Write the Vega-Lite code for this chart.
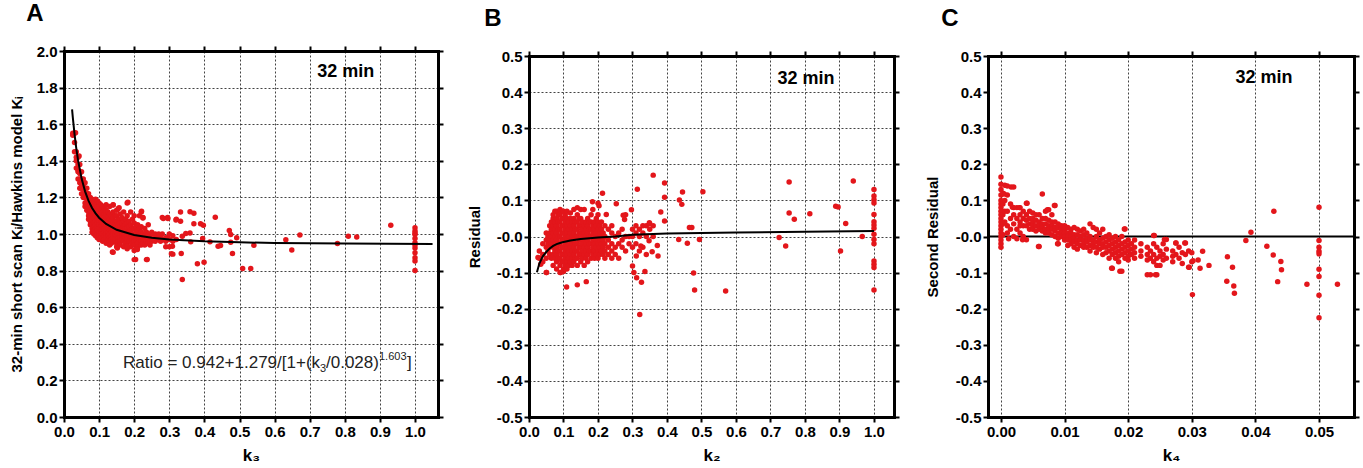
{
"$schema": "https://vega.github.io/schema/vega-lite/v6.json",
"padding": {"left": 9, "top": 2, "right": 0, "bottom": 0},
"background": "white",
"config": {
 "view": {"stroke": null},
 "font": "Liberation Sans",
 "axis": {"domain": true, "domainColor": "black", "domainWidth": 3, "domainCap": "square", "ticks": true, "tickColor": "black", "tickWidth": 2, "tickSize": 5, "labelFont": "Liberation Sans", "labelFontSize": 15, "labelFontWeight": "bold", "labelColor": "black", "labelPadding": 2, "labelFlush": false, "labelOverlap": false, "titleFont": "Liberation Sans", "titleFontSize": 16, "titleFontWeight": "bold", "titleColor": "black", "gridColor": "#222", "gridDash": [2, 2], "gridWidth": 1, "gridOpacity": 0.85},
 "title": {"anchor": "start", "fontSize": 24, "fontWeight": "bold", "font": "Liberation Sans", "color": "black", "baseline": "alphabetic", "offset": 18}
},
"datasets": {
 "A": [
  {"k":0.025,"v":1.55},{"k":0.025,"v":1.54},
  {"k":0.03,"v":1.55},{"k":0.03,"v":1.5},{"k":0.03,"v":1.45},
  {"k":0.035,"v":1.42},{"k":0.035,"v":1.4},{"k":0.035,"v":1.36},{"k":0.035,"v":1.45},
  {"k":0.04,"v":1.42},{"k":0.04,"v":1.38},{"k":0.04,"v":1.35},{"k":0.04,"v":1.3},{"k":0.04,"v":1.34},
  {"k":0.045,"v":1.38},{"k":0.045,"v":1.33},{"k":0.045,"v":1.3},{"k":0.045,"v":1.28},{"k":0.045,"v":1.25},
  {"k":0.05,"v":1.34},{"k":0.05,"v":1.3},{"k":0.05,"v":1.27},{"k":0.05,"v":1.25},{"k":0.05,"v":1.22},
  {"k":0.055,"v":1.3},{"k":0.055,"v":1.27},{"k":0.055,"v":1.25},{"k":0.055,"v":1.22},{"k":0.055,"v":1.2},
  {"k":0.06,"v":1.28},{"k":0.06,"v":1.25},{"k":0.06,"v":1.23},{"k":0.06,"v":1.2},{"k":0.06,"v":1.17},{"k":0.06,"v":1.15},
  {"k":0.065,"v":1.25},{"k":0.065,"v":1.22},{"k":0.065,"v":1.19},{"k":0.065,"v":1.16},{"k":0.065,"v":1.13},
  {"k":0.07,"v":1.22},{"k":0.07,"v":1.2},{"k":0.07,"v":1.17},{"k":0.07,"v":1.15},{"k":0.07,"v":1.12},{"k":0.07,"v":1.1},{"k":0.07,"v":1.08},
  {"k":0.075,"v":1.2},{"k":0.075,"v":1.18},{"k":0.075,"v":1.15},{"k":0.075,"v":1.13},{"k":0.075,"v":1.1},{"k":0.075,"v":1.07},{"k":0.075,"v":1.05},
  {"k":0.08,"v":1.19},{"k":0.08,"v":1.17},{"k":0.08,"v":1.14},{"k":0.08,"v":1.12},{"k":0.08,"v":1.1},{"k":0.08,"v":1.08},{"k":0.08,"v":1.05},{"k":0.08,"v":1.03},{"k":0.08,"v":1.01},
  {"k":0.085,"v":1.18},{"k":0.085,"v":1.15},{"k":0.085,"v":1.13},{"k":0.085,"v":1.11},{"k":0.085,"v":1.09},{"k":0.085,"v":1.06},{"k":0.085,"v":1.04},{"k":0.085,"v":1.02},{"k":0.085,"v":1.0},
  {"k":0.09,"v":1.19},{"k":0.09,"v":1.16},{"k":0.09,"v":1.14},{"k":0.09,"v":1.12},{"k":0.09,"v":1.1},{"k":0.09,"v":1.07},{"k":0.09,"v":1.05},{"k":0.09,"v":1.03},{"k":0.09,"v":1.01},{"k":0.09,"v":0.99},
  {"k":0.095,"v":1.18},{"k":0.095,"v":1.15},{"k":0.095,"v":1.13},{"k":0.095,"v":1.11},{"k":0.095,"v":1.08},{"k":0.095,"v":1.06},{"k":0.095,"v":1.04},{"k":0.095,"v":1.02},{"k":0.095,"v":1.0},{"k":0.095,"v":0.98},
  {"k":0.1,"v":1.17},{"k":0.1,"v":1.15},{"k":0.1,"v":1.12},{"k":0.1,"v":1.1},{"k":0.1,"v":1.07},{"k":0.1,"v":1.05},{"k":0.1,"v":1.03},{"k":0.1,"v":1.01},{"k":0.1,"v":0.99},{"k":0.1,"v":0.97},
  {"k":0.105,"v":1.16},{"k":0.105,"v":1.13},{"k":0.105,"v":1.11},{"k":0.105,"v":1.09},{"k":0.105,"v":1.06},{"k":0.105,"v":1.04},{"k":0.105,"v":1.02},{"k":0.105,"v":1.0},{"k":0.105,"v":0.98},
  {"k":0.11,"v":1.15},{"k":0.11,"v":1.12},{"k":0.11,"v":1.1},{"k":0.11,"v":1.08},{"k":0.11,"v":1.06},{"k":0.11,"v":1.04},{"k":0.11,"v":1.02},{"k":0.11,"v":1.0},{"k":0.11,"v":0.98},{"k":0.11,"v":0.96},
  {"k":0.115,"v":1.14},{"k":0.115,"v":1.11},{"k":0.115,"v":1.09},{"k":0.115,"v":1.07},{"k":0.115,"v":1.05},{"k":0.115,"v":1.03},{"k":0.115,"v":1.01},{"k":0.115,"v":0.99},{"k":0.115,"v":0.97},
  {"k":0.12,"v":1.16},{"k":0.12,"v":1.13},{"k":0.12,"v":1.1},{"k":0.12,"v":1.08},{"k":0.12,"v":1.06},{"k":0.12,"v":1.04},{"k":0.12,"v":1.02},{"k":0.12,"v":1.0},{"k":0.12,"v":0.98},{"k":0.12,"v":0.95},
  {"k":0.125,"v":1.12},{"k":0.125,"v":1.09},{"k":0.125,"v":1.07},{"k":0.125,"v":1.05},{"k":0.125,"v":1.03},{"k":0.125,"v":1.01},{"k":0.125,"v":0.99},{"k":0.125,"v":0.97},
  {"k":0.13,"v":1.15},{"k":0.13,"v":1.11},{"k":0.13,"v":1.08},{"k":0.13,"v":1.06},{"k":0.13,"v":1.04},{"k":0.13,"v":1.02},{"k":0.13,"v":1.0},{"k":0.13,"v":0.98},{"k":0.13,"v":0.96},{"k":0.13,"v":0.94},
  {"k":0.135,"v":1.1},{"k":0.135,"v":1.07},{"k":0.135,"v":1.05},{"k":0.135,"v":1.03},{"k":0.135,"v":1.01},{"k":0.135,"v":0.99},{"k":0.135,"v":0.97},{"k":0.135,"v":0.95},
  {"k":0.14,"v":1.16},{"k":0.14,"v":1.12},{"k":0.14,"v":1.09},{"k":0.14,"v":1.06},{"k":0.14,"v":1.04},{"k":0.14,"v":1.02},{"k":0.14,"v":1.0},{"k":0.14,"v":0.98},{"k":0.14,"v":0.96},{"k":0.14,"v":0.9},
  {"k":0.145,"v":1.1},{"k":0.145,"v":1.07},{"k":0.145,"v":1.05},{"k":0.145,"v":1.03},{"k":0.145,"v":1.01},{"k":0.145,"v":0.99},{"k":0.145,"v":0.97},
  {"k":0.15,"v":1.13},{"k":0.15,"v":1.1},{"k":0.15,"v":1.07},{"k":0.15,"v":1.05},{"k":0.15,"v":1.03},{"k":0.15,"v":1.01},{"k":0.15,"v":0.99},{"k":0.15,"v":0.97},{"k":0.15,"v":0.95},{"k":0.15,"v":0.93},
  {"k":0.155,"v":1.14},{"k":0.155,"v":1.08},{"k":0.155,"v":1.05},{"k":0.155,"v":1.02},{"k":0.155,"v":1.0},{"k":0.155,"v":0.98},{"k":0.155,"v":0.96},
  {"k":0.16,"v":1.11},{"k":0.16,"v":1.08},{"k":0.16,"v":1.06},{"k":0.16,"v":1.04},{"k":0.16,"v":1.02},{"k":0.16,"v":1.0},{"k":0.16,"v":0.98},{"k":0.16,"v":0.96},{"k":0.16,"v":0.94},
  {"k":0.165,"v":1.09},{"k":0.165,"v":1.06},{"k":0.165,"v":1.03},{"k":0.165,"v":1.01},{"k":0.165,"v":0.99},{"k":0.165,"v":0.97},
  {"k":0.17,"v":1.12},{"k":0.17,"v":1.07},{"k":0.17,"v":1.04},{"k":0.17,"v":1.02},{"k":0.17,"v":1.0},{"k":0.17,"v":0.98},{"k":0.17,"v":0.96},{"k":0.17,"v":0.93},
  {"k":0.175,"v":1.08},{"k":0.175,"v":1.05},{"k":0.175,"v":1.03},{"k":0.175,"v":1.0},{"k":0.175,"v":0.98},{"k":0.175,"v":0.95},
  {"k":0.18,"v":1.17},{"k":0.18,"v":1.1},{"k":0.18,"v":1.06},{"k":0.18,"v":1.03},{"k":0.18,"v":1.01},{"k":0.18,"v":0.99},{"k":0.18,"v":0.97},{"k":0.18,"v":0.94},{"k":0.18,"v":0.92},
  {"k":0.185,"v":1.07},{"k":0.185,"v":1.04},{"k":0.185,"v":1.01},{"k":0.185,"v":0.99},{"k":0.185,"v":0.96},
  {"k":0.19,"v":1.12},{"k":0.19,"v":1.05},{"k":0.19,"v":1.02},{"k":0.19,"v":1.0},{"k":0.19,"v":0.98},{"k":0.19,"v":0.96},{"k":0.19,"v":0.93},
  {"k":0.195,"v":1.08},{"k":0.195,"v":1.03},{"k":0.195,"v":1.0},{"k":0.195,"v":0.97},{"k":0.195,"v":0.95},
  {"k":0.2,"v":1.1},{"k":0.2,"v":1.06},{"k":0.2,"v":1.03},{"k":0.2,"v":1.0},{"k":0.2,"v":0.98},{"k":0.2,"v":0.96},{"k":0.2,"v":0.94},{"k":0.2,"v":0.91},{"k":0.2,"v":0.86},
  {"k":0.205,"v":1.04},{"k":0.205,"v":1.01},{"k":0.205,"v":0.99},{"k":0.205,"v":0.97},{"k":0.205,"v":0.92},
  {"k":0.21,"v":1.05},{"k":0.21,"v":1.02},{"k":0.21,"v":0.99},{"k":0.21,"v":0.97},{"k":0.21,"v":0.95},{"k":0.21,"v":0.93},
  {"k":0.215,"v":1.1},{"k":0.215,"v":1.03},{"k":0.215,"v":1.0},{"k":0.215,"v":0.97},
  {"k":0.22,"v":1.12},{"k":0.22,"v":1.04},{"k":0.22,"v":1.01},{"k":0.22,"v":0.98},{"k":0.22,"v":0.96},{"k":0.22,"v":0.94},
  {"k":0.225,"v":1.09},{"k":0.225,"v":1.0},{"k":0.225,"v":0.97},{"k":0.225,"v":0.95},
  {"k":0.23,"v":1.03},{"k":0.23,"v":0.99},{"k":0.23,"v":0.97},{"k":0.23,"v":0.94},
  {"k":0.235,"v":1.01},{"k":0.235,"v":0.98},{"k":0.235,"v":0.96},{"k":0.235,"v":0.86},
  {"k":0.24,"v":1.05},{"k":0.24,"v":1.0},{"k":0.24,"v":0.97},{"k":0.24,"v":0.95},
  {"k":0.245,"v":0.99},{"k":0.245,"v":0.96},{"k":0.245,"v":0.94},
  {"k":0.25,"v":1.01},{"k":0.25,"v":0.98},{"k":0.25,"v":0.96},
  {"k":0.255,"v":0.99},{"k":0.255,"v":0.97},
  {"k":0.26,"v":1.0},{"k":0.26,"v":0.97},{"k":0.26,"v":0.96},
  {"k":0.27,"v":0.99},{"k":0.27,"v":0.97},
  {"k":0.275,"v":0.98},{"k":0.275,"v":0.96},
  {"k":0.28,"v":1.09},{"k":0.28,"v":1.0},{"k":0.28,"v":0.97},
  {"k":0.29,"v":0.98},{"k":0.29,"v":0.96},{"k":0.29,"v":0.93},
  {"k":0.295,"v":1.09},{"k":0.295,"v":0.98},
  {"k":0.3,"v":0.97},{"k":0.3,"v":0.93},
  {"k":0.31,"v":0.96},{"k":0.31,"v":0.89},
  {"k":0.32,"v":1.08},{"k":0.32,"v":0.97},
  {"k":0.033,"v":1.553},{"k":0.043,"v":1.426},{"k":0.182,"v":1.174},{"k":0.14,"v":1.158},{"k":0.157,"v":1.143},{"k":0.221,"v":1.125},{"k":0.225,"v":1.088},{"k":0.283,"v":1.085},{"k":0.296,"v":1.085},{"k":0.332,"v":1.12},{"k":0.359,"v":1.121},{"k":0.37,"v":1.114},{"k":0.319,"v":1.076},{"k":0.332,"v":1.07},{"k":0.37,"v":1.056},{"k":0.389,"v":1.056},{"k":0.397,"v":1.048},{"k":0.431,"v":1.092},{"k":0.471,"v":1.019},{"k":0.475,"v":0.997},{"k":0.492,"v":0.979},{"k":0.475,"v":0.955},{"k":0.395,"v":0.975},{"k":0.416,"v":0.957},{"k":0.439,"v":0.933},{"k":0.446,"v":0.937},{"k":0.361,"v":0.957},{"k":0.359,"v":1.006},{"k":0.347,"v":1.003},{"k":0.337,"v":0.988},{"k":0.309,"v":0.933},{"k":0.306,"v":0.892},{"k":0.334,"v":0.893},{"k":0.337,"v":0.751},{"k":0.38,"v":0.837},{"k":0.399,"v":0.846},{"k":0.48,"v":0.893},{"k":0.541,"v":0.939},{"k":0.509,"v":0.811},{"k":0.532,"v":0.811},{"k":0.632,"v":0.968},{"k":0.649,"v":0.913},{"k":0.672,"v":0.994},{"k":0.779,"v":0.948},{"k":0.81,"v":0.988},{"k":0.834,"v":0.983},{"k":0.931,"v":1.048},
  {"k":1.0,"v":1.034},{"k":1.0,"v":1.016},{"k":1.0,"v":0.997},{"k":1.0,"v":0.975},{"k":1.0,"v":0.952},{"k":1.0,"v":0.924},{"k":1.0,"v":0.897},{"k":1.0,"v":0.87},{"k":1.0,"v":0.852},{"k":1.0,"v":0.8},{"k":1.0,"v":1.005},{"k":1.0,"v":0.94},
  {"k":0.204,"v":0.861},{"k":0.237,"v":0.861},{"k":0.138,"v":0.902},{"k":0.152,"v":0.924},{"k":0.18,"v":0.933},{"k":0.209,"v":0.915},{"k":0.262,"v":0.99},{"k":0.27,"v":1.0},{"k":0.255,"v":0.995},{"k":0.31,"v":0.99},{"k":0.3,"v":1.0}
 ],
 "Afit": [
  {"k":0.023,"v":1.681},{"k":0.025,"v":1.639},{"k":0.03,"v":1.546},{"k":0.035,"v":1.468},{"k":0.04,"v":1.4035},{"k":0.05,"v":1.304},{"k":0.06,"v":1.233},{"k":0.07,"v":1.181},{"k":0.08,"v":1.142},{"k":0.09,"v":1.1126},{"k":0.1,"v":1.089},{"k":0.12,"v":1.055},{"k":0.15,"v":1.023},{"k":0.2,"v":0.9945},{"k":0.25,"v":0.979},{"k":0.3,"v":0.97},{"k":0.4,"v":0.96},{"k":0.5,"v":0.9545},{"k":0.6,"v":0.951},{"k":0.8,"v":0.948},{"k":1.05,"v":0.9458}
 ],
 "B": [
  {"k":0.03,"v":-0.06},{"k":0.03,"v":-0.04},
  {"k":0.04,"v":-0.05},{"k":0.04,"v":-0.02},{"k":0.04,"v":-0.07},
  {"k":0.05,"v":-0.1},{"k":0.05,"v":-0.06},{"k":0.05,"v":-0.03},{"k":0.05,"v":-0.01},{"k":0.05,"v":0.01},
  {"k":0.055,"v":-0.04},{"k":0.055,"v":-0.02},{"k":0.055,"v":0.0},
  {"k":0.06,"v":-0.05},{"k":0.06,"v":-0.03},{"k":0.06,"v":-0.01},{"k":0.06,"v":0.01},{"k":0.06,"v":0.03},
  {"k":0.065,"v":-0.06},{"k":0.065,"v":-0.02},{"k":0.065,"v":0.0},{"k":0.065,"v":0.02},{"k":0.065,"v":0.04},
  {"k":0.07,"v":-0.08},{"k":0.07,"v":-0.05},{"k":0.07,"v":-0.03},{"k":0.07,"v":-0.01},{"k":0.07,"v":0.01},{"k":0.07,"v":0.03},{"k":0.07,"v":0.05},{"k":0.07,"v":0.06},
  {"k":0.075,"v":-0.06},{"k":0.075,"v":-0.04},{"k":0.075,"v":-0.02},{"k":0.075,"v":0.0},{"k":0.075,"v":0.02},{"k":0.075,"v":0.04},{"k":0.075,"v":0.07},
  {"k":0.08,"v":-0.09},{"k":0.08,"v":-0.07},{"k":0.08,"v":-0.05},{"k":0.08,"v":-0.03},{"k":0.08,"v":-0.01},{"k":0.08,"v":0.01},{"k":0.08,"v":0.03},{"k":0.08,"v":0.05},{"k":0.08,"v":0.07},
  {"k":0.085,"v":-0.06},{"k":0.085,"v":-0.04},{"k":0.085,"v":-0.02},{"k":0.085,"v":0.0},{"k":0.085,"v":0.02},{"k":0.085,"v":0.04},{"k":0.085,"v":0.06},
  {"k":0.09,"v":-0.1},{"k":0.09,"v":-0.08},{"k":0.09,"v":-0.06},{"k":0.09,"v":-0.04},{"k":0.09,"v":-0.02},{"k":0.09,"v":0.0},{"k":0.09,"v":0.02},{"k":0.09,"v":0.04},{"k":0.09,"v":0.06},{"k":0.09,"v":0.075},
  {"k":0.095,"v":-0.07},{"k":0.095,"v":-0.05},{"k":0.095,"v":-0.03},{"k":0.095,"v":-0.01},{"k":0.095,"v":0.01},{"k":0.095,"v":0.03},{"k":0.095,"v":0.05},{"k":0.095,"v":0.07},
  {"k":0.1,"v":-0.09},{"k":0.1,"v":-0.07},{"k":0.1,"v":-0.05},{"k":0.1,"v":-0.03},{"k":0.1,"v":-0.01},{"k":0.1,"v":0.01},{"k":0.1,"v":0.03},{"k":0.1,"v":0.05},{"k":0.1,"v":0.07},
  {"k":0.105,"v":-0.08},{"k":0.105,"v":-0.06},{"k":0.105,"v":-0.04},{"k":0.105,"v":-0.02},{"k":0.105,"v":0.0},{"k":0.105,"v":0.02},{"k":0.105,"v":0.04},{"k":0.105,"v":0.06},
  {"k":0.11,"v":-0.09},{"k":0.11,"v":-0.07},{"k":0.11,"v":-0.05},{"k":0.11,"v":-0.03},{"k":0.11,"v":-0.01},{"k":0.11,"v":0.01},{"k":0.11,"v":0.03},{"k":0.11,"v":0.05},{"k":0.11,"v":0.07},
  {"k":0.115,"v":-0.08},{"k":0.115,"v":-0.06},{"k":0.115,"v":-0.04},{"k":0.115,"v":-0.02},{"k":0.115,"v":0.0},{"k":0.115,"v":0.02},{"k":0.115,"v":0.04},
  {"k":0.12,"v":-0.07},{"k":0.12,"v":-0.05},{"k":0.12,"v":-0.03},{"k":0.12,"v":-0.01},{"k":0.12,"v":0.01},{"k":0.12,"v":0.03},{"k":0.12,"v":0.05},{"k":0.12,"v":0.065},
  {"k":0.125,"v":-0.08},{"k":0.125,"v":-0.06},{"k":0.125,"v":-0.04},{"k":0.125,"v":-0.02},{"k":0.125,"v":0.0},{"k":0.125,"v":0.02},{"k":0.125,"v":0.04},
  {"k":0.13,"v":-0.07},{"k":0.13,"v":-0.05},{"k":0.13,"v":-0.03},{"k":0.13,"v":-0.01},{"k":0.13,"v":0.01},{"k":0.13,"v":0.03},{"k":0.13,"v":0.05},{"k":0.13,"v":0.075},
  {"k":0.135,"v":-0.06},{"k":0.135,"v":-0.04},{"k":0.135,"v":-0.02},{"k":0.135,"v":0.0},{"k":0.135,"v":0.02},{"k":0.135,"v":0.04},
  {"k":0.14,"v":-0.08},{"k":0.14,"v":-0.06},{"k":0.14,"v":-0.04},{"k":0.14,"v":-0.02},{"k":0.14,"v":0.0},{"k":0.14,"v":0.02},{"k":0.14,"v":0.04},{"k":0.14,"v":0.06},{"k":0.14,"v":0.08},
  {"k":0.145,"v":-0.05},{"k":0.145,"v":-0.03},{"k":0.145,"v":-0.01},{"k":0.145,"v":0.01},{"k":0.145,"v":0.03},{"k":0.145,"v":0.05},
  {"k":0.15,"v":-0.07},{"k":0.15,"v":-0.05},{"k":0.15,"v":-0.03},{"k":0.15,"v":-0.01},{"k":0.15,"v":0.01},{"k":0.15,"v":0.03},{"k":0.15,"v":0.05},{"k":0.15,"v":0.075},
  {"k":0.155,"v":-0.06},{"k":0.155,"v":-0.04},{"k":0.155,"v":-0.02},{"k":0.155,"v":0.0},{"k":0.155,"v":0.02},{"k":0.155,"v":0.04},
  {"k":0.16,"v":-0.08},{"k":0.16,"v":-0.05},{"k":0.16,"v":-0.03},{"k":0.16,"v":-0.01},{"k":0.16,"v":0.01},{"k":0.16,"v":0.03},{"k":0.16,"v":0.075},
  {"k":0.165,"v":-0.06},{"k":0.165,"v":-0.04},{"k":0.165,"v":-0.02},{"k":0.165,"v":0.0},{"k":0.165,"v":0.02},{"k":0.165,"v":0.04},
  {"k":0.17,"v":-0.07},{"k":0.17,"v":-0.05},{"k":0.17,"v":-0.03},{"k":0.17,"v":-0.01},{"k":0.17,"v":0.01},{"k":0.17,"v":0.03},{"k":0.17,"v":0.05},
  {"k":0.175,"v":-0.04},{"k":0.175,"v":-0.02},{"k":0.175,"v":0.0},{"k":0.175,"v":0.02},{"k":0.175,"v":0.04},
  {"k":0.18,"v":-0.06},{"k":0.18,"v":-0.04},{"k":0.18,"v":-0.02},{"k":0.18,"v":0.0},{"k":0.18,"v":0.02},{"k":0.18,"v":0.04},{"k":0.18,"v":0.06},
  {"k":0.185,"v":-0.05},{"k":0.185,"v":-0.03},{"k":0.185,"v":-0.01},{"k":0.185,"v":0.01},{"k":0.185,"v":0.03},{"k":0.185,"v":0.075},
  {"k":0.19,"v":-0.06},{"k":0.19,"v":-0.04},{"k":0.19,"v":-0.02},{"k":0.19,"v":0.0},{"k":0.19,"v":0.02},{"k":0.19,"v":0.04},
  {"k":0.195,"v":-0.05},{"k":0.195,"v":-0.03},{"k":0.195,"v":-0.01},{"k":0.195,"v":0.01},{"k":0.195,"v":0.03},{"k":0.195,"v":0.05},
  {"k":0.2,"v":-0.06},{"k":0.2,"v":-0.04},{"k":0.2,"v":-0.02},{"k":0.2,"v":0.0},{"k":0.2,"v":0.02},{"k":0.2,"v":0.04},{"k":0.2,"v":0.06},
  {"k":0.205,"v":-0.05},{"k":0.205,"v":-0.03},{"k":0.205,"v":-0.01},{"k":0.205,"v":0.01},{"k":0.205,"v":0.03},
  {"k":0.21,"v":-0.04},{"k":0.21,"v":-0.02},{"k":0.21,"v":0.0},{"k":0.21,"v":0.02},{"k":0.21,"v":0.04},
  {"k":0.215,"v":-0.05},{"k":0.215,"v":-0.03},{"k":0.215,"v":-0.01},{"k":0.215,"v":0.01},
  {"k":0.22,"v":-0.06},{"k":0.22,"v":-0.04},{"k":0.22,"v":-0.02},{"k":0.22,"v":0.0},{"k":0.22,"v":0.03},
  {"k":0.23,"v":-0.05},{"k":0.23,"v":-0.03},{"k":0.23,"v":-0.01},{"k":0.23,"v":0.02},
  {"k":0.24,"v":-0.06},{"k":0.24,"v":-0.04},{"k":0.24,"v":-0.02},{"k":0.24,"v":0.01},{"k":0.24,"v":0.03},
  {"k":0.25,"v":-0.05},{"k":0.25,"v":-0.03},{"k":0.25,"v":0.0},
  {"k":0.26,"v":-0.06},{"k":0.26,"v":-0.02},{"k":0.26,"v":0.01},
  {"k":0.27,"v":-0.03},{"k":0.27,"v":-0.01},{"k":0.27,"v":0.02},
  {"k":0.28,"v":-0.04},{"k":0.28,"v":0.0},{"k":0.28,"v":0.06},
  {"k":0.29,"v":-0.02},{"k":0.29,"v":0.0},
  {"k":0.3,"v":-0.03},{"k":0.3,"v":0.0},{"k":0.3,"v":0.02},
  {"k":0.31,"v":0.01},{"k":0.31,"v":0.03},{"k":0.31,"v":-0.02},
  {"k":0.32,"v":0.0},{"k":0.32,"v":0.02},{"k":0.32,"v":-0.04},
  {"k":0.33,"v":0.01},{"k":0.33,"v":0.03},{"k":0.33,"v":-0.03},
  {"k":0.34,"v":0.0},{"k":0.34,"v":0.03},{"k":0.34,"v":-0.05},
  {"k":0.35,"v":0.02},{"k":0.35,"v":0.035},
  {"k":0.36,"v":0.03},{"k":0.36,"v":0.0},
  {"k":0.026,"v":-0.058},{"k":0.034,"v":-0.077},{"k":0.051,"v":-0.1},{"k":0.109,"v":-0.14},{"k":0.14,"v":-0.134},{"k":0.166,"v":-0.125},{"k":0.1,"v":-0.097},{"k":0.092,"v":-0.1},{"k":0.184,"v":0.096},{"k":0.213,"v":0.12},{"k":0.2,"v":0.092},{"k":0.203,"v":0.085},{"k":0.253,"v":0.091},{"k":0.224,"v":0.061},{"k":0.273,"v":0.059},{"k":0.277,"v":0.047},{"k":0.297,"v":0.074},{"k":0.314,"v":0.131},{"k":0.36,"v":0.17},{"k":0.393,"v":0.148},{"k":0.393,"v":0.109},{"k":0.382,"v":0.068},{"k":0.393,"v":0.043},{"k":0.436,"v":0.101},{"k":0.443,"v":0.089},{"k":0.445,"v":0.123},{"k":0.504,"v":0.124},{"k":0.465,"v":0.025},{"k":0.472,"v":0.025},{"k":0.434,"v":-0.008},{"k":0.459,"v":-0.019},{"k":0.494,"v":-0.008},{"k":0.477,"v":-0.101},{"k":0.48,"v":-0.148},{"k":0.57,"v":-0.151},{"k":0.348,"v":-0.012},{"k":0.349,"v":0.038},{"k":0.357,"v":-0.042},{"k":0.374,"v":-0.054},{"k":0.372,"v":-0.025},{"k":0.336,"v":-0.097},{"k":0.304,"v":-0.1},{"k":0.3,"v":-0.082},{"k":0.312,"v":-0.114},{"k":0.326,"v":-0.127},{"k":0.321,"v":-0.216},{"k":0.311,"v":-0.054},{"k":0.324,"v":-0.026},{"k":0.725,"v":-0.003},{"k":0.744,"v":-0.026},{"k":0.754,"v":0.151},{"k":0.754,"v":0.065},{"k":0.769,"v":0.048},{"k":0.814,"v":0.063},{"k":0.889,"v":0.084},{"k":0.896,"v":0.082},{"k":0.918,"v":0.036},{"k":0.903,"v":-0.04},{"k":0.94,"v":0.154},{"k":0.966,"v":0.0},
  {"k":1.0,"v":0.13},{"k":1.0,"v":0.112},{"k":1.0,"v":0.102},{"k":1.0,"v":0.093},{"k":1.0,"v":0.061},{"k":1.0,"v":0.041},{"k":1.0,"v":0.032},{"k":1.0,"v":0.023},{"k":1.0,"v":0.006},{"k":1.0,"v":-0.008},{"k":1.0,"v":-0.02},{"k":1.0,"v":-0.068},{"k":1.0,"v":-0.077},{"k":1.0,"v":-0.086},{"k":1.0,"v":-0.148}
 ],
 "Bfit": [
  {"k":0.023,"v":-0.099},{"k":0.03,"v":-0.075},{"k":0.04,"v":-0.055},{"k":0.05,"v":-0.043},{"k":0.06,"v":-0.033},{"k":0.07,"v":-0.026},{"k":0.08,"v":-0.021},{"k":0.09,"v":-0.018},{"k":0.1,"v":-0.015},{"k":0.12,"v":-0.011},{"k":0.15,"v":-0.007},{"k":0.2,"v":-0.003},{"k":0.25,"v":0.0},{"k":0.3,"v":0.005},{"k":0.4,"v":0.008},{"k":0.5,"v":0.01},{"k":0.6,"v":0.011},{"k":0.8,"v":0.013},{"k":1.0,"v":0.015}
 ],
 "C": [
  {"k":0.0,"v":0.165},{"k":0.0,"v":0.145},{"k":0.0,"v":0.13},{"k":0.0,"v":0.115},{"k":0.0,"v":0.1},{"k":0.0,"v":0.09},{"k":0.0,"v":0.08},{"k":0.0,"v":0.07},{"k":0.0,"v":0.06},{"k":0.0,"v":0.05},{"k":0.0,"v":0.04},{"k":0.0,"v":0.03},{"k":0.0,"v":0.02},{"k":0.0,"v":0.01},{"k":0.0,"v":0.0},{"k":0.0,"v":-0.01},{"k":0.0,"v":-0.02},{"k":0.0,"v":-0.03},
  {"k":0.0003,"v":0.12},{"k":0.0003,"v":0.09},{"k":0.0003,"v":0.06},{"k":0.0003,"v":0.035},{"k":0.0003,"v":0.005},
  {"k":0.0006,"v":0.142},{"k":0.0006,"v":0.1},{"k":0.0006,"v":0.07},{"k":0.0006,"v":0.04},
  {"k":0.001,"v":0.14},{"k":0.001,"v":0.115},{"k":0.001,"v":0.07},{"k":0.001,"v":0.03},{"k":0.001,"v":0.01},
  {"k":0.0015,"v":0.09},{"k":0.0015,"v":0.05},{"k":0.0015,"v":0.02},
  {"k":0.002,"v":0.137},{"k":0.002,"v":0.08},{"k":0.002,"v":0.06},{"k":0.002,"v":0.035},{"k":0.002,"v":0.0},
  {"k":0.0025,"v":0.08},{"k":0.0025,"v":0.05},{"k":0.0025,"v":0.02},{"k":0.0025,"v":-0.006},
  {"k":0.003,"v":0.08},{"k":0.003,"v":0.06},{"k":0.003,"v":0.04},{"k":0.003,"v":0.03},{"k":0.003,"v":0.01},
  {"k":0.0035,"v":0.07},{"k":0.0035,"v":0.05},{"k":0.0035,"v":0.03},{"k":0.0035,"v":0.0},
  {"k":0.004,"v":0.092},{"k":0.004,"v":0.06},{"k":0.004,"v":0.045},{"k":0.004,"v":0.03},{"k":0.004,"v":-0.009},
  {"k":0.0045,"v":0.07},{"k":0.0045,"v":0.05},{"k":0.0045,"v":0.035},{"k":0.0045,"v":0.02},
  {"k":0.005,"v":0.065},{"k":0.005,"v":0.05},{"k":0.005,"v":0.04},{"k":0.005,"v":0.03},{"k":0.005,"v":0.02},
  {"k":0.0055,"v":0.06},{"k":0.0055,"v":0.045},{"k":0.0055,"v":0.03},{"k":0.0055,"v":0.015},
  {"k":0.006,"v":0.06},{"k":0.006,"v":0.04},{"k":0.006,"v":0.03},{"k":0.006,"v":0.02},{"k":0.006,"v":-0.028},
  {"k":0.0065,"v":0.118},{"k":0.0065,"v":0.05},{"k":0.0065,"v":0.035},{"k":0.0065,"v":0.025},{"k":0.0065,"v":0.015},
  {"k":0.007,"v":0.07},{"k":0.007,"v":0.05},{"k":0.007,"v":0.035},{"k":0.007,"v":0.02},{"k":0.007,"v":0.01},
  {"k":0.0075,"v":0.074},{"k":0.0075,"v":0.045},{"k":0.0075,"v":0.03},{"k":0.0075,"v":0.02},{"k":0.0075,"v":0.01},
  {"k":0.008,"v":0.06},{"k":0.008,"v":0.04},{"k":0.008,"v":0.03},{"k":0.008,"v":0.02},{"k":0.008,"v":0.005},
  {"k":0.0085,"v":0.086},{"k":0.0085,"v":0.04},{"k":0.0085,"v":0.025},{"k":0.0085,"v":0.015},{"k":0.0085,"v":0.0},
  {"k":0.009,"v":0.035},{"k":0.009,"v":0.025},{"k":0.009,"v":0.01},{"k":0.009,"v":-0.005},{"k":0.009,"v":-0.02},
  {"k":0.0095,"v":0.03},{"k":0.0095,"v":0.02},{"k":0.0095,"v":0.01},{"k":0.0095,"v":0.0},
  {"k":0.01,"v":0.03},{"k":0.01,"v":0.02},{"k":0.01,"v":0.01},{"k":0.01,"v":0.0},{"k":0.01,"v":-0.01},
  {"k":0.0105,"v":0.025},{"k":0.0105,"v":0.01},{"k":0.0105,"v":0.0},{"k":0.0105,"v":-0.01},{"k":0.0105,"v":-0.025},
  {"k":0.011,"v":0.02},{"k":0.011,"v":0.01},{"k":0.011,"v":0.0},{"k":0.011,"v":-0.01},{"k":0.011,"v":-0.02},
  {"k":0.0115,"v":0.025},{"k":0.0115,"v":0.005},{"k":0.0115,"v":-0.005},{"k":0.0115,"v":-0.015},{"k":0.0115,"v":-0.03},
  {"k":0.012,"v":0.02},{"k":0.012,"v":0.005},{"k":0.012,"v":-0.01},{"k":0.012,"v":-0.02},{"k":0.012,"v":-0.035},
  {"k":0.0125,"v":0.015},{"k":0.0125,"v":0.0},{"k":0.0125,"v":-0.01},{"k":0.0125,"v":-0.025},
  {"k":0.013,"v":0.02},{"k":0.013,"v":0.005},{"k":0.013,"v":-0.01},{"k":0.013,"v":-0.02},{"k":0.013,"v":-0.03},
  {"k":0.0135,"v":0.01},{"k":0.0135,"v":-0.005},{"k":0.0135,"v":-0.015},{"k":0.0135,"v":-0.03},
  {"k":0.014,"v":0.035},{"k":0.014,"v":0.0},{"k":0.014,"v":-0.01},{"k":0.014,"v":-0.025},{"k":0.014,"v":-0.04},
  {"k":0.0145,"v":0.025},{"k":0.0145,"v":-0.01},{"k":0.0145,"v":-0.02},{"k":0.0145,"v":-0.03},
  {"k":0.015,"v":0.02},{"k":0.015,"v":0.0},{"k":0.015,"v":-0.015},{"k":0.015,"v":-0.03},{"k":0.015,"v":-0.045},
  {"k":0.0155,"v":0.01},{"k":0.0155,"v":-0.01},{"k":0.0155,"v":-0.02},{"k":0.0155,"v":-0.035},
  {"k":0.016,"v":0.02},{"k":0.016,"v":-0.005},{"k":0.016,"v":-0.02},{"k":0.016,"v":-0.03},{"k":0.016,"v":-0.05},
  {"k":0.0165,"v":0.0},{"k":0.0165,"v":-0.015},{"k":0.0165,"v":-0.03},{"k":0.0165,"v":-0.045},
  {"k":0.017,"v":0.005},{"k":0.017,"v":-0.01},{"k":0.017,"v":-0.025},{"k":0.017,"v":-0.04},{"k":0.017,"v":-0.06},
  {"k":0.0175,"v":-0.005},{"k":0.0175,"v":-0.02},{"k":0.0175,"v":-0.035},{"k":0.0175,"v":-0.05},{"k":0.0175,"v":-0.088},
  {"k":0.018,"v":0.0},{"k":0.018,"v":-0.015},{"k":0.018,"v":-0.03},{"k":0.018,"v":-0.045},{"k":0.018,"v":-0.06},
  {"k":0.0185,"v":-0.01},{"k":0.0185,"v":-0.025},{"k":0.0185,"v":-0.04},{"k":0.0185,"v":-0.055},{"k":0.0185,"v":-0.07},
  {"k":0.019,"v":0.0},{"k":0.019,"v":-0.02},{"k":0.019,"v":-0.035},{"k":0.019,"v":-0.05},{"k":0.019,"v":-0.096},
  {"k":0.0195,"v":0.021},{"k":0.0195,"v":-0.015},{"k":0.0195,"v":-0.03},{"k":0.0195,"v":-0.045},{"k":0.0195,"v":-0.06},
  {"k":0.02,"v":-0.01},{"k":0.02,"v":-0.025},{"k":0.02,"v":-0.04},{"k":0.02,"v":-0.055},{"k":0.02,"v":-0.065},
  {"k":0.0205,"v":-0.02},{"k":0.0205,"v":-0.035},{"k":0.0205,"v":-0.05},
  {"k":0.021,"v":-0.01},{"k":0.021,"v":-0.03},{"k":0.021,"v":-0.045},{"k":0.021,"v":-0.06},
  {"k":0.022,"v":-0.02},{"k":0.022,"v":-0.04},{"k":0.022,"v":-0.055},
  {"k":0.023,"v":-0.03},{"k":0.023,"v":-0.05},{"k":0.023,"v":-0.065},
  {"k":0.0235,"v":-0.04},{"k":0.0235,"v":-0.06},{"k":0.0235,"v":-0.106},
  {"k":0.024,"v":0.003},{"k":0.024,"v":-0.02},{"k":0.024,"v":-0.05},{"k":0.024,"v":-0.07},
  {"k":0.0245,"v":-0.03},{"k":0.0245,"v":-0.06},{"k":0.0245,"v":-0.08},{"k":0.0245,"v":-0.106},
  {"k":0.025,"v":-0.04},{"k":0.025,"v":-0.055},{"k":0.025,"v":-0.08},
  {"k":0.0255,"v":-0.02},{"k":0.0255,"v":-0.05},{"k":0.0255,"v":-0.065},
  {"k":0.026,"v":-0.008},{"k":0.026,"v":-0.035},{"k":0.026,"v":-0.06},
  {"k":0.027,"v":-0.04},{"k":0.027,"v":-0.055},{"k":0.027,"v":-0.07},
  {"k":0.0275,"v":-0.018},{"k":0.0275,"v":-0.05},
  {"k":0.028,"v":-0.03},{"k":0.028,"v":-0.06},
  {"k":0.0285,"v":-0.045},{"k":0.0285,"v":-0.075},
  {"k":0.029,"v":-0.018},{"k":0.029,"v":-0.05},
  {"k":0.0295,"v":-0.04},{"k":0.0295,"v":-0.085},
  {"k":0.03,"v":-0.045},{"k":0.03,"v":-0.07},{"k":0.0301,"v":-0.161},
  {"k":0.031,"v":-0.065},{"k":0.0302,"v":-0.067},
  {"k":0.0317,"v":-0.041},{"k":0.0313,"v":-0.088},{"k":0.0327,"v":-0.08},{"k":0.0296,"v":-0.085},
  {"k":0.0356,"v":-0.056},{"k":0.0355,"v":-0.124},{"k":0.0364,"v":-0.085},{"k":0.0366,"v":-0.137},{"k":0.0367,"v":-0.157},
  {"k":0.0429,"v":0.07},{"k":0.0393,"v":0.012},{"k":0.0385,"v":-0.011},{"k":0.0418,"v":-0.027},{"k":0.0428,"v":-0.051},{"k":0.044,"v":-0.069},{"k":0.0441,"v":-0.092},{"k":0.0435,"v":-0.125},{"k":0.0481,"v":-0.132},{"k":0.0529,"v":-0.132},
  {"k":0.05,"v":0.081},{"k":0.05,"v":-0.011},{"k":0.05,"v":-0.03},{"k":0.05,"v":-0.041},{"k":0.05,"v":-0.048},{"k":0.05,"v":-0.091},{"k":0.05,"v":-0.111},{"k":0.05,"v":-0.163},{"k":0.05,"v":-0.225},
  {"k":0.023,"v":-0.106},{"k":0.0243,"v":-0.106},{"k":0.0187,"v":-0.096},{"k":0.0174,"v":-0.088},{"k":0.0194,"v":0.021},{"k":0.0241,"v":0.003},{"k":0.0257,"v":-0.008},{"k":0.0275,"v":-0.018},{"k":0.0289,"v":-0.018},
  {"k":0.0016,"v":0.137},{"k":0.0005,"v":0.118},{"k":0.0041,"v":0.092},{"k":0.0018,"v":0.081},{"k":0.0029,"v":0.08},{"k":0.0084,"v":0.086},{"k":0.0073,"v":0.074},{"k":0.0059,"v":-0.028},{"k":0.0089,"v":-0.02},{"k":0.0012,"v":-0.006},{"k":0.0034,"v":-0.009}
 ],
 "Cline": [{"v":0}]
},
"hconcat": [
 {
  "width": 374, "height": 366,
  "title": {"text": "A", "dx": 17},
  "layer": [
   {"data": {"name": "A"}, "mark": {"type": "circle", "size": 30, "color": "#e3161b", "opacity": 1},
    "encoding": {
     "x": {"field": "k", "type": "quantitative", "scale": {"domain": [0, 1.0655], "nice": false, "zero": false},
      "axis": {"values": [0,0.1,0.2,0.3,0.4,0.5,0.6,0.7,0.8,0.9,1.0], "format": ".1f", "title": "k₃", "titleFontSize": 17, "titlePadding": 8}},
     "y": {"field": "v", "type": "quantitative", "scale": {"domain": [0, 2], "nice": false, "zero": false},
      "axis": {"values": [0,0.2,0.4,0.6,0.8,1.0,1.2,1.4,1.6,1.8,2.0], "format": ".1f", "title": "32-min short scan Kᵢ/Hawkins model Kᵢ", "titleFontSize": 15, "titlePadding": 12}}
    }},
   {"data": {"name": "Afit"}, "mark": {"type": "line", "color": "black", "strokeWidth": 2},
    "encoding": {
     "x": {"field": "k", "type": "quantitative", "scale": {"domain": [0, 1.0655], "nice": false, "zero": false}, "axis": null},
     "y": {"field": "v", "type": "quantitative", "scale": {"domain": [0, 2], "nice": false, "zero": false}, "axis": null}
    }},
   {"data": {"values": [{"k": 0.803, "v": 1.885, "t": "32 min"}]}, "mark": {"type": "text", "fontSize": 18, "fontWeight": "bold", "color": "black", "align": "center", "baseline": "middle"},
    "encoding": {
     "x": {"field": "k", "type": "quantitative", "scale": {"domain": [0, 1.0655], "nice": false, "zero": false},
      "axis": {"orient": "top", "labels": false, "title": null, "grid": false, "values": [0,0.1,0.2,0.3,0.4,0.5,0.6,0.7,0.8,0.9,1.0]}},
     "y": {"field": "v", "type": "quantitative", "scale": {"domain": [0, 2], "nice": false, "zero": false},
      "axis": {"orient": "right", "labels": false, "title": null, "grid": false, "values": [0,0.2,0.4,0.6,0.8,1.0,1.2,1.4,1.6,1.8,2.0]}},
     "text": {"field": "t"}
    }},
   {"data": {"values": [{"k": 0.1681, "v": 0.266, "t": "Ratio = 0.942+1.279/[1+(k"}, {"k": 0.7464, "v": 0.266, "t": "/0.028)"}, {"k": 0.9772, "v": 0.266, "t": "]"}]},
    "mark": {"type": "text", "fontSize": 17, "color": "#222", "align": "left", "baseline": "alphabetic"},
    "encoding": {
     "x": {"field": "k", "type": "quantitative", "scale": {"domain": [0, 1.0655], "nice": false, "zero": false}, "axis": null},
     "y": {"field": "v", "type": "quantitative", "scale": {"domain": [0, 2], "nice": false, "zero": false}, "axis": null},
     "text": {"field": "t"}
    }},
   {"data": {"values": [{"k": 0.7293, "v": 0.266, "t": "3"}]},
    "mark": {"type": "text", "fontSize": 11, "color": "#222", "align": "left", "baseline": "alphabetic", "dy": 4},
    "encoding": {
     "x": {"field": "k", "type": "quantitative", "scale": {"domain": [0, 1.0655], "nice": false, "zero": false}, "axis": null},
     "y": {"field": "v", "type": "quantitative", "scale": {"domain": [0, 2], "nice": false, "zero": false}, "axis": null},
     "text": {"field": "t"}
    }},
   {"data": {"values": [{"k": 0.8974, "v": 0.266, "t": "1.603"}]},
    "mark": {"type": "text", "fontSize": 11, "color": "#222", "align": "left", "baseline": "alphabetic", "dy": -8},
    "encoding": {
     "x": {"field": "k", "type": "quantitative", "scale": {"domain": [0, 1.0655], "nice": false, "zero": false}, "axis": null},
     "y": {"field": "v", "type": "quantitative", "scale": {"domain": [0, 2], "nice": false, "zero": false}, "axis": null},
     "text": {"field": "t"}
    }}
  ],
  "resolve": {"axis": {"x": "independent", "y": "independent"}}
 },
 {
  "vconcat": [
   {"width": 10, "height": 5, "data": {"values": []}, "mark": "point"},
   {
    "hconcat": [
     {
      "width": 365, "height": 361,
      "title": {"text": "B", "dx": 17},
      "layer": [
       {"data": {"name": "B"}, "mark": {"type": "circle", "size": 30, "color": "#e3161b", "opacity": 1},
        "encoding": {
         "x": {"field": "k", "type": "quantitative", "scale": {"domain": [0, 1.058], "nice": false, "zero": false},
          "axis": {"values": [0,0.1,0.2,0.3,0.4,0.5,0.6,0.7,0.8,0.9,1.0], "format": ".1f", "title": "k₂", "titleFontSize": 17, "titlePadding": 8}},
         "y": {"field": "v", "type": "quantitative", "scale": {"domain": [-0.5, 0.5], "nice": false, "zero": false},
          "axis": {"values": [-0.5,-0.4,-0.3,-0.2,-0.1,0,0.1,0.2,0.3,0.4,0.5], "labelExpr": "(datum.value <= 0 ? '-' : '') + format(abs(datum.value), '.1f')", "title": "Residual", "titleFontSize": 15, "titlePadding": 14}}
        }},
       {"data": {"name": "Bfit"}, "mark": {"type": "line", "color": "black", "strokeWidth": 2},
        "encoding": {
         "x": {"field": "k", "type": "quantitative", "scale": {"domain": [0, 1.058], "nice": false, "zero": false}, "axis": null},
         "y": {"field": "v", "type": "quantitative", "scale": {"domain": [-0.5, 0.5], "nice": false, "zero": false}, "axis": null}
        }},
       {"data": {"values": [{"k": 0.803, "v": 0.436, "t": "32 min"}]}, "mark": {"type": "text", "fontSize": 18, "fontWeight": "bold", "color": "black", "align": "center", "baseline": "middle"},
        "encoding": {
         "x": {"field": "k", "type": "quantitative", "scale": {"domain": [0, 1.058], "nice": false, "zero": false},
          "axis": {"orient": "top", "labels": false, "title": null, "grid": false, "values": [0,0.1,0.2,0.3,0.4,0.5,0.6,0.7,0.8,0.9,1.0]}},
         "y": {"field": "v", "type": "quantitative", "scale": {"domain": [-0.5, 0.5], "nice": false, "zero": false},
          "axis": {"orient": "right", "labels": false, "title": null, "grid": false, "values": [-0.5,-0.4,-0.3,-0.2,-0.1,0,0.1,0.2,0.3,0.4,0.5]}},
         "text": {"field": "t"}
        }}
      ],
      "resolve": {"axis": {"x": "independent", "y": "independent"}}
     },
     {
      "width": 366, "height": 361,
      "title": {"text": "C", "dx": 16},
      "layer": [
       {"data": {"name": "Cline"}, "mark": {"type": "rule", "color": "black", "strokeWidth": 2},
        "encoding": {
         "y": {"field": "v", "type": "quantitative", "scale": {"domain": [-0.5, 0.5], "nice": false, "zero": false}, "axis": null}
        }},
       {"data": {"name": "C"}, "mark": {"type": "circle", "size": 30, "color": "#e3161b", "opacity": 1},
        "encoding": {
         "x": {"field": "k", "type": "quantitative", "scale": {"domain": [-0.00204, 0.0555], "nice": false, "zero": false},
          "axis": {"values": [0,0.01,0.02,0.03,0.04,0.05], "format": ".2f", "title": "k₄", "titleFontSize": 17, "titlePadding": 8}},
         "y": {"field": "v", "type": "quantitative", "scale": {"domain": [-0.5, 0.5], "nice": false, "zero": false},
          "axis": {"values": [-0.5,-0.4,-0.3,-0.2,-0.1,0,0.1,0.2,0.3,0.4,0.5], "labelExpr": "(datum.value <= 0 ? '-' : '') + format(abs(datum.value), '.1f')", "title": "Second  Residual", "titleFontSize": 15, "titlePadding": 15}}
        }},
       {"data": {"values": [{"k": 0.04135, "v": 0.439, "t": "32 min"}]}, "mark": {"type": "text", "fontSize": 18, "fontWeight": "bold", "color": "black", "align": "center", "baseline": "middle"},
        "encoding": {
         "x": {"field": "k", "type": "quantitative", "scale": {"domain": [-0.00204, 0.0555], "nice": false, "zero": false},
          "axis": {"orient": "top", "labels": false, "title": null, "grid": false, "values": [0,0.01,0.02,0.03,0.04,0.05]}},
         "y": {"field": "v", "type": "quantitative", "scale": {"domain": [-0.5, 0.5], "nice": false, "zero": false},
          "axis": {"orient": "right", "labels": false, "title": null, "grid": false, "values": [-0.5,-0.4,-0.3,-0.2,-0.1,0,0.1,0.2,0.3,0.4,0.5]}},
         "text": {"field": "t"}
        }}
      ],
      "resolve": {"axis": {"x": "independent", "y": "independent"}}
     }
    ],
    "spacing": 94,
    "bounds": "flush"
   }
  ],
  "spacing": 0,
  "bounds": "flush"
 }
],
"spacing": 91,
"bounds": "flush"
}
